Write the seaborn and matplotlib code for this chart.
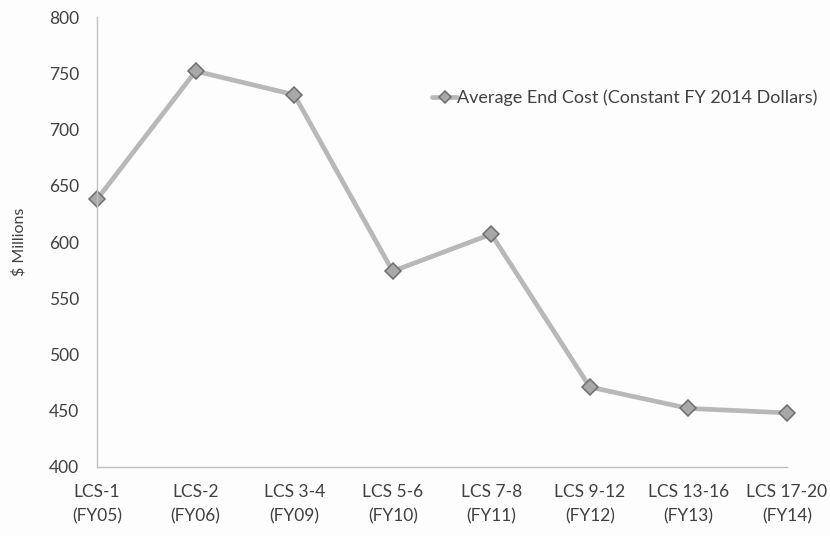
import matplotlib
matplotlib.use("Agg")
import matplotlib.pyplot as plt
import pandas as pd
import seaborn as sns

# values
categories = ["LCS-1\n(FY05)", "LCS-2\n(FY06)", "LCS 3-4\n(FY09)", "LCS 5-6\n(FY10)",
              "LCS 7-8\n(FY11)", "LCS 9-12\n(FY12)", "LCS 13-16\n(FY13)", "LCS 17-20\n(FY14)"]
end_cost = [638, 752, 731, 574, 607, 471, 452, 448]
series_name = "Average End Cost (Constant FY 2014 Dollars)"
y_ticks = [400, 450, 500, 550, 600, 650, 700, 750, 800]

data = pd.DataFrame({"ship": categories, "cost": end_cost})

sns.set_style("white")
plt.rcParams["font.family"] = ["Lato", "DejaVu Sans"]

fig = plt.figure(figsize=(8.3, 5.36), dpi=100)
fig.patch.set_facecolor("#fdfdfd")
ax = fig.add_axes([0.117, 0.129, 0.831, 0.839])
ax.set_facecolor("#fdfdfd")

sns.lineplot(data=data, x="ship", y="cost", sort=False, ax=ax,
             color="#b8b8b8", linewidth=3.4, marker="D", markersize=8,
             markerfacecolor="#a8a8a8", markeredgecolor="#6e6e6e",
             markeredgewidth=1.1, label=series_name, clip_on=False)

ax.set_xlim(0, len(categories) - 1)
ax.set_ylim(400, 800)
ax.set_yticks(y_ticks)
ax.set_xticks(range(len(categories)))
ax.set_xticklabels(categories, linespacing=1.65)
ax.set_xlabel("")
ax.set_ylabel("$ Millions", fontsize=11.5, color="#404040", labelpad=16)

for side in ["top", "right"]:
    ax.spines[side].set_visible(False)
for side in ["left", "bottom"]:
    ax.spines[side].set_color("#c0c0c0")
    ax.spines[side].set_linewidth(1.0)

ax.tick_params(axis="both", direction="out", length=5, width=1, color="#c0c0c0",
               labelsize=12.5, labelcolor="#404040")
ax.tick_params(axis="x", pad=7)
ax.tick_params(axis="y", pad=8)

leg = ax.legend(loc="upper left", bbox_to_anchor=(0.475, 0.855), frameon=False,
                fontsize=13, handlelength=1.4, handletextpad=0.0, borderaxespad=0,
                markerscale=0.8)
for t in leg.get_texts():
    t.set_color("#404040")

fig.savefig("out.png", dpi=100, facecolor=fig.get_facecolor())
